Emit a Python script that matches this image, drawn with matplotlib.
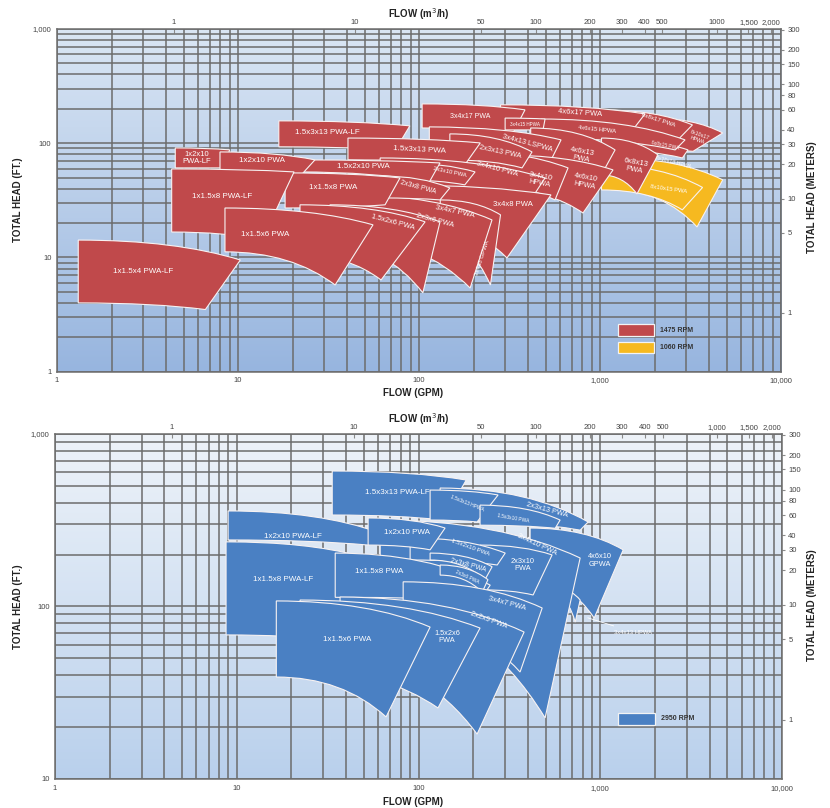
import matplotlib
matplotlib.use("Agg")
import matplotlib.pyplot as plt
import numpy as np
from matplotlib.path import Path
from matplotlib.patches import PathPatch, Rectangle
from matplotlib.colors import LinearSegmentedColormap
from matplotlib.ticker import NullFormatter, NullLocator

plt.rcParams['font.family'] = ['Liberation Sans', 'DejaVu Sans']

GPM_PER_M3H = 4.403
FT_PER_M = 3.281

RED = '#c0494b'
YELLOW = '#f6b920'
BLUE = '#4a80c3'

# ---------------- 1475 / 1060 RPM chart (flow GPM, head ft) ----------------
# per pump: left flow, top-left head, top-right flow/head, bottom-right flow/head, bottom-left head
low_names = ['', '8x10x18 HPWA', '8x10x15 PWA', '8x10x17\nHPWA', '6x8x17 PWA', '4x6x17 PWA',
             '6x8x15 PWA', '4x6x15 HPWA', '3x4x17 PWA', '3x4x15 HPWA', '6x8x13\nPWA', '4x6x13\nPWA',
             '3x4x13 LSPWA', '4x6x10\nHPWA', '3x4x10\nHPWA', '2x3x13 PWA', '1.5x3x13 PWA-LF',
             '1.5x3x13 PWA', '3x4x10 PWA', '3x4x8 PWA', '3x4x8 GPWA', '3x4x7 PWA', '2x3x10 PWA',
             '1.5x2x10 PWA', '1x2x10\nPWA-LF', '1x2x10 PWA', '2x3x8 PWA', '1x1.5x8 PWA', '2x3x6 PWA',
             '1.5x2x6 PWA', '1x1.5x8 PWA-LF', '1x1.5x6 PWA', '1x1.5x4 PWA-LF']
low_speed = ['y', 'y', 'y'] + ['r'] * 30
low_q_left = [896, 1159, 1019, 1938, 1019, 282, 1019, 471, 104, 299, 1019, 414, 114, 282, 148, 148,
              16.8, 40.5, 61, 78.5, 131, 41.7, 78.5, 21.2, 4.5, 7.95, 61, 18.2, 32.2, 22, 4.3, 8.47, 1.31]
low_h_top = [56, 74.3, 64.6, 166, 196, 217, 111, 163, 221, 166, 111, 136, 139, 79, 87.4, 120.7,
             157, 111, 74.3, 43, 31.9, 35.3, 67.2, 71.5, 91, 83.9, 51.7, 55, 28.9, 28.9, 59.6, 27.1, 14.2]
low_q_top_right = [1704, 4765, 3685, 4765, 3240, 1773, 3063, 2949, 385, 497, 2091, 1211, 609, 1180, 666, 421,
                   89, 218, 497, 536, 282, 253, 204, 130.6, 9.0, 26.6, 148, 78.5, 130.6, 108, 20.4, 55.7, 10.3]
low_h_top_right = [47.8, 47.8, 41, 123, 144.7, 180.6, 87.4, 107, 196, 163, 79, 87.4, 107, 58.4, 60.8, 83.9,
                   142, 100.6, 49.7, 35.3, 23.6, 21.3, 56.1, 67.2, 87.4, 71.5, 40.6, 49.7, 20.5, 20.5, 56.1, 19.3, 9.5]
low_q_bot_right = [1499, 3435, 2850, 3266, 2375, 1374, 2850, 2600, 326, 484, 1600, 903, 497, 805, 564, 371,
                   74, 182, 414, 306, 248, 191.6, 179, 114, 8.2, 20.6, 130.6, 64.9, 105, 61.7, 13.6, 34.4, 6.6]
low_h_bot_right = [41.4, 18.5, 26.1, 85, 87.4, 107, 74.3, 87.4, 118, 130.8, 36, 37.5, 56, 24.5, 31.9, 60.8,
                   87.4, 67.2, 31.9, 9.9, 5.74, 5.4, 43.2, 45.8, 60.8, 45.8, 31.9, 28.9, 4.9, 6.35, 14.3, 5.74, 3.5]
low_h_bot = [43.2, 39, 39, 87.4, 107, 144.7, 87.4, 111, 136, 130.8, 52.8, 52.8, 87.4, 39, 47.8, 71.5,
             93, 71.5, 43.2, 23.6, 14.3, 14.3, 47.8, 56.1, 60.8, 56.1, 33.2, 27.1, 12.9, 10.5, 16.7, 11.2, 4.0]
low_label_q = [1, 2530, 2400, 3500, 2100, 775, 2287, 962, 191, 385, 1560, 795, 395, 826, 466, 280,
               31, 101, 270, 330, 223, 158, 148, 49, 5.93, 13.6, 98.6, 33.5, 122.5, 71.8, 8.16, 14.1, 2.98]
low_label_h = [1, 68.6, 40, 112, 160, 184, 94.7, 131, 170, 146, 63, 79, 100, 46, 47.8, 84,
               125, 88, 60, 28.9, 9.9, 25, 56, 62, 74.3, 70, 41, 40.6, 21, 20.5, 33.9, 16, 7.6]
low_label_rot = [0, -15, -8, -20, -18, -4, -12, -6, 0, 0, -10, -10, -15, -10, -10, -12,
                 0, -3, -15, 0, 72, -12, -12, 0, 0, 0, -15, 0, -15, -15, 0, 0, 0]
low_label_size = [4.4, 3.8, 4.2, 3.8, 4.4, 5.5, 3.5, 4.2, 5, 3.3, 5.5, 5.5, 5.3, 5.3, 5.3, 5.3,
                  5.8, 5.8, 5.3, 5.5, 4.4, 5.5, 4.2, 5.8, 5.5, 5.8, 5, 5.8, 5.3, 5.3, 5.8, 5.8, 5.8]

# ---------------- 2950 RPM chart ----------------
high_names = ['1.5x3x13 PWA-LF', '2x3x13 PWA', '1.5x3x13 HPWA', '1.5x3x10 PWA', '4x6x10\nGPWA', '',
              '3x4x10 PWA', '2x3x10\nPWA', '1.5x2x10 PWA', '1x2x10 PWA-LF', '1x2x10 PWA',
              '1x1.5x8 PWA-LF', '1x1.5x8 PWA', '2x3x8 PWA', '2x3x6 PWA', '3x4x7 PWA', '2x2x9 PWA',
              '1.5x2x6\nPWA', '1x1.5x6 PWA']
high_q_left = [33.5, 131.5, 115.8, 218, 411, 601, 61.5, 218, 89.9, 8.96, 52.8, 8.73, 34.8, 115.8, 131.5,
               82.3, 37, 22.3, 16.5]
high_h_top = [610, 486, 473, 387, 285, 125, 317, 227, 250, 358, 326, 237, 204, 204, 174, 139, 113.5, 109, 107.7]
high_q_top_right = [183, 858, 274, 601, 1337, 775, 775, 543, 300, 61.5, 140, 47.7, 248, 254, 241, 479, 381, 218, 115.8]
high_h_top_right = [541, 309, 443, 317, 213, 109, 191, 199, 204, 267, 285, 196, 133, 170, 143, 98, 71.1, 75, 76]
high_q_bot_right = [137, 775, 210, 565, 926, 728, 497, 427, 271, 52.8, 115.8, 32.6, 218, 232, 224, 362, 210, 128, 66.3]
high_h_bot_right = [317, 277, 309, 284, 85.7, 81.2, 22.6, 116.6, 174, 227, 213, 64, 109, 143, 121, 41.7, 18.2, 25.8, 22.9]
high_h_bot = [339, 317, 317, 296, 143, 109, 95.5, 125, 186, 243, 227, 68.4, 113, 186, 152, 83.6, 49, 42.9, 39]
high_label_q = [76.3, 510, 185, 331, 1000, 1, 450, 372, 192, 20.4, 86.5, 18, 60.7, 187.5, 185, 307, 241.6, 143.6, 40.5]
high_label_h = [455, 362, 398, 326, 185, 1, 227, 174, 221, 253, 267, 143, 158.5, 174, 148, 104.7, 83.6, 66.5, 64]
high_label_rot = [0, -15, -22, -10, 0, 0, -25, 0, -20, 0, 0, 0, 0, -15, -25, -15, -20, 0, 0]
high_label_size = [5.8, 5.3, 3.5, 3.5, 5.3, 4.4, 5.3, 5.3, 4.4, 5.8, 5.8, 5.8, 5.8, 5, 3.5, 5.3, 5.3, 5.3, 5.8]

callout_text = '3x4x13 HPWA'
callout_q, callout_h = 1518, 71.1
callout_tip_q, callout_tip_h = 826, 86.9

gpm_ticks = [1, 10, 100, 1000, 10000]
gpm_labels = ['1', '10', '100', '1,000', '10,000']
m3h_ticks = [1, 10, 50, 100, 200, 300, 400, 500, 1000, 1500, 2000]
m3h_labels_top = ['1', '10', '50', '100', '200', '300', '400', '500', '1000', '1,500', '2,000']
m3h_labels_bot = ['1', '10', '50', '100', '200', '300', '400', '500', '1,000', '1,500', '2,000']
m_ticks = [300, 200, 150, 100, 80, 60, 40, 30, 20, 10, 5, 1]
ft_ticks_top = [1, 10, 100, 1000]
ft_labels_top = ['1', '10', '100', '1,000']
ft_ticks_bot = [10, 100, 1000]
ft_labels_bot = ['10', '100', '1,000']
legend_low = [('1475 RPM', RED), ('1060 RPM', YELLOW)]
legend_high = [('2950 RPM', BLUE)]

GRID = '#6c6c6c'
TICK = '#444444'


def region_path(q1, ht, q2, h2, q3, h3, hb):
    # pump curve on top, end-of-curve on the right, small impeller along the bottom
    qt = q1 ** 0.4 * q2 ** 0.6
    qb = q1 ** 0.4 * q3 ** 0.6
    verts = [(q1, ht), (qt, ht), (q2, h2), (q3, h3), (qb, hb), (q1, hb), (q1, ht)]
    codes = [Path.MOVETO, Path.CURVE3, Path.CURVE3, Path.LINETO,
             Path.CURVE3, Path.CURVE3, Path.CLOSEPOLY]
    return Path(verts, codes)


def make_axes(fig, pos, ymin, ymax, c_lo, c_hi):
    bg = fig.add_axes(pos, zorder=0)
    cmap = LinearSegmentedColormap.from_list('bg', [c_lo, c_hi])
    bg.imshow(np.linspace(0, 1, 256).reshape(-1, 1), cmap=cmap, origin='lower',
              aspect='auto', extent=[0, 1, 0, 1])
    bg.axis('off')
    ax = fig.add_axes(pos, zorder=1)
    ax.patch.set_alpha(0)
    ax.set_xscale('log')
    ax.set_yscale('log')
    ax.set_xlim(1, 10000)
    ax.set_ylim(ymin, ymax)
    ax.grid(True, which='both', color=GRID, lw=1.1)
    ax.set_axisbelow(True)
    ax.set_xticks(gpm_ticks, gpm_labels)
    ax.xaxis.set_minor_formatter(NullFormatter())
    ax.yaxis.set_minor_formatter(NullFormatter())
    ax.tick_params(which='both', length=0, labelsize=5.5, labelcolor=TICK, pad=4)
    for s in ax.spines.values():
        s.set_color(GRID)
        s.set_linewidth(1.1)
    return ax


def draw_ranges(ax, names, colors, q1, ht, q2, h2, q3, h3, hb, lq, lh, lrot, lsize):
    for i in range(len(names)):
        p = PathPatch(region_path(q1[i], ht[i], q2[i], h2[i], q3[i], h3[i], hb[i]),
                      facecolor=colors[i], edgecolor='#f7f2f2', lw=0.8, zorder=2 + i)
        ax.add_patch(p)
        if names[i]:
            ax.text(lq[i], lh[i], names[i], color='white', fontsize=lsize[i], rotation=lrot[i],
                    ha='center', va='center', linespacing=1.1, zorder=100)


def draw_legend(ax, items, y0):
    for k, (txt, col) in enumerate(items):
        y = y0 - k * 0.05
        ax.add_patch(Rectangle((0.775, y), 0.05, 0.034, transform=ax.transAxes,
                               facecolor=col, edgecolor='#f3f3f3', lw=0.9, zorder=60))
        ax.text(0.833, y + 0.017, txt, transform=ax.transAxes, fontsize=5, fontweight='bold',
                color='#333333', va='center', ha='left', zorder=61)


def side_axes(ax, m3h_labels, fwd, inv, ft_ticks, ft_labels):
    ax.set_yticks(ft_ticks, ft_labels)
    sx = ax.secondary_xaxis('top', functions=(lambda q: np.asarray(q) / GPM_PER_M3H,
                                              lambda m: np.asarray(m) * GPM_PER_M3H))
    sx.set_xticks(m3h_ticks, m3h_labels)
    sx.xaxis.set_minor_locator(NullLocator())
    sx.tick_params(direction='in', length=3, width=0.8, color='#8a8a8a', labelsize=5.5,
                   labelcolor=TICK, pad=2)
    sx.spines['top'].set_visible(False)
    sy = ax.secondary_yaxis('right', functions=(fwd, inv))
    sy.set_yticks(m_ticks, [str(v) for v in m_ticks])
    sy.yaxis.set_minor_locator(NullLocator())
    sy.tick_params(direction='out', length=2.5, width=0.8, color='#8a8a8a', labelsize=5.5,
                   labelcolor=TICK, pad=2)
    sy.spines['right'].set_visible(False)


def m_top_fwd(ft):
    return np.asarray(ft) / FT_PER_M


def m_top_inv(m):
    return np.asarray(m) * FT_PER_M


# the lower chart re-uses the meter scale positions of the upper chart
def m_bot_fwd(ft):
    ft = np.clip(np.asarray(ft, dtype=float), 1e-9, None)
    return 10 ** (1.5 * (np.log10(ft) - 1)) / FT_PER_M


def m_bot_inv(m):
    m = np.clip(np.asarray(m, dtype=float), 1e-9, None)
    return 10 ** (1 + np.log10(m * FT_PER_M) / 1.5)


fig = plt.figure(figsize=(8.3, 8.08), dpi=100)

ax1 = make_axes(fig, [0.0687, 0.540, 0.8723, 0.4241], 1, 1000, '#97b5df', '#dae6f4')
side_axes(ax1, m3h_labels_top, m_top_fwd, m_top_inv, ft_ticks_top, ft_labels_top)
low_colors = [YELLOW if s == 'y' else RED for s in low_speed]
draw_ranges(ax1, low_names, low_colors, low_q_left, low_h_top, low_q_top_right, low_h_top_right,
            low_q_bot_right, low_h_bot_right, low_h_bot, low_label_q, low_label_h,
            low_label_rot, low_label_size)
draw_legend(ax1, legend_low, 0.104)

ax2 = make_axes(fig, [0.0663, 0.0359, 0.8759, 0.4270], 10, 1000, '#b9d0ec', '#eef3f9')
side_axes(ax2, m3h_labels_bot, m_bot_fwd, m_bot_inv, ft_ticks_bot, ft_labels_bot)
draw_ranges(ax2, high_names, [BLUE] * len(high_names), high_q_left, high_h_top, high_q_top_right,
            high_h_top_right, high_q_bot_right, high_h_bot_right, high_h_bot, high_label_q,
            high_label_h, high_label_rot, high_label_size)
ax2.annotate(callout_text, xy=(callout_tip_q, callout_tip_h), xytext=(callout_q, callout_h),
             color='white', fontsize=4.2, ha='center', va='center', zorder=40,
             arrowprops=dict(arrowstyle='-', color='white', lw=0.6))
draw_legend(ax2, legend_high, 0.157)

lab = dict(fontsize=7, fontweight='bold', color='#222222', ha='center', va='center')
fig.text(0.498, 0.5136, 'FLOW (GPM)', **lab)
fig.text(0.505, 0.9827, 'FLOW (m$^3$/h)', **lab)
fig.text(0.0217, 0.7525, 'TOTAL HEAD (FT.)', rotation=90, **lab)
fig.text(0.978, 0.756, 'TOTAL HEAD (METERS)', rotation=90, **lab)
fig.text(0.498, 0.0074, 'FLOW (GPM)', **lab)
fig.text(0.505, 0.4814, 'FLOW (m$^3$/h)', **lab)
fig.text(0.0217, 0.2488, 'TOTAL HEAD (FT.)', rotation=90, **lab)
fig.text(0.978, 0.251, 'TOTAL HEAD (METERS)', rotation=90, **lab)

fig.savefig('out.png', dpi=100, facecolor='white')
